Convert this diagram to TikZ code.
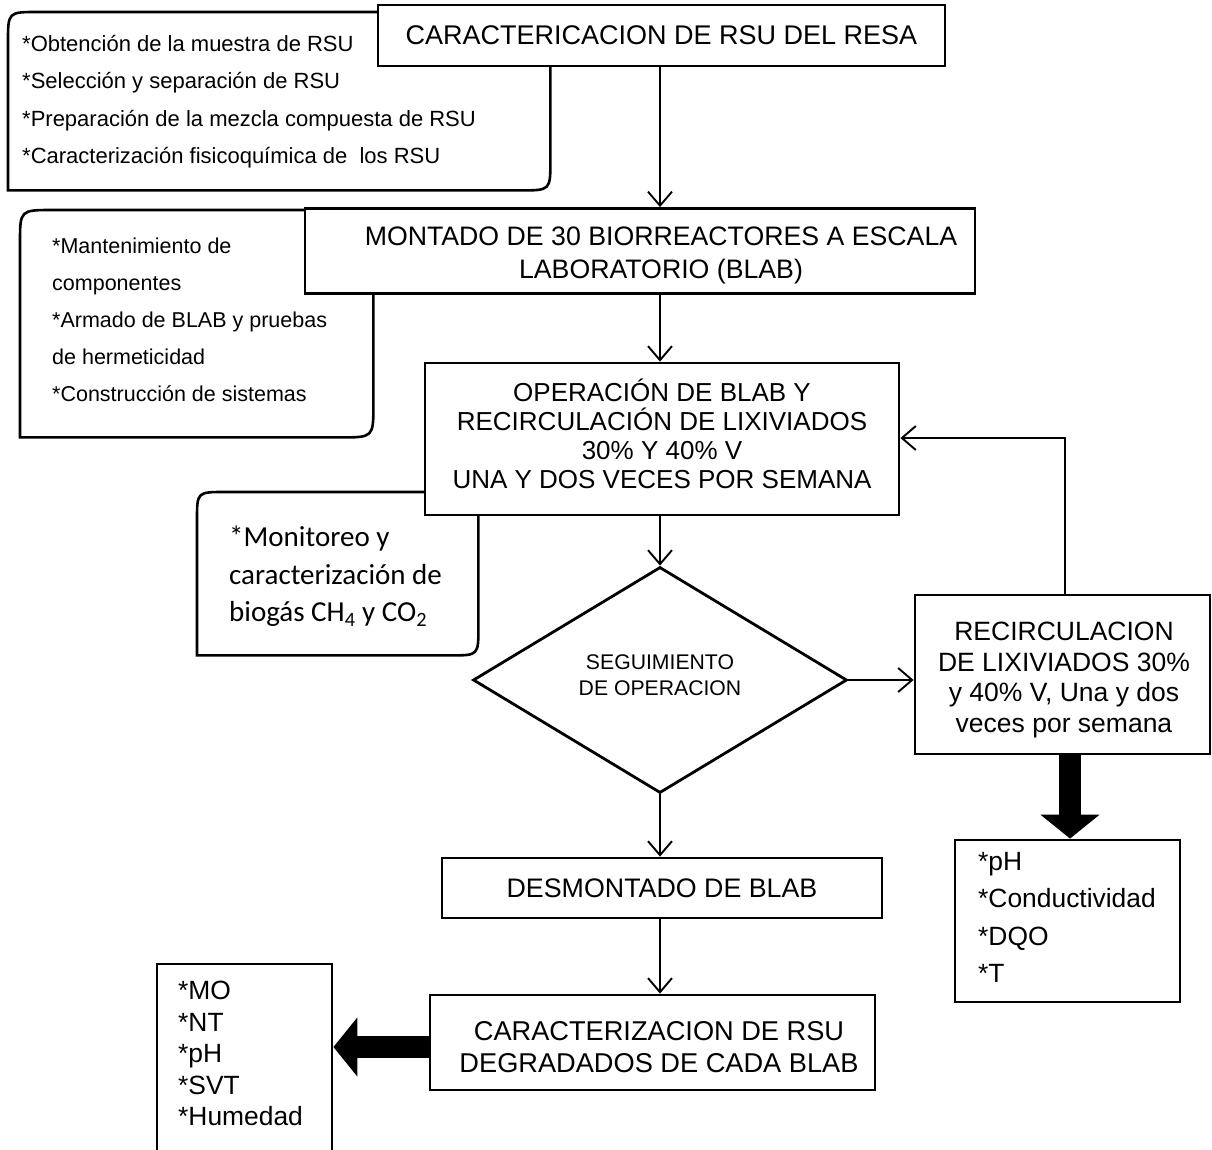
\documentclass[tikz,border=0pt]{standalone}
\usepackage{fontspec}
\setmainfont{Liberation Sans}
\newfontfamily\calib{Carlito}
\usetikzlibrary{arrows.meta,shapes.geometric}
\begin{document}
\begin{tikzpicture}[x=1pt,y=-1pt,
  box/.style={draw, line width=2.8pt, fill=white, align=center, inner sep=0pt},
  ctext/.style={inner sep=0pt, align=center},
  txt/.style={inner sep=0pt, align=left, anchor=north west},
  shell/.style={draw=none, inner sep=0pt, anchor=north west},
  callout/.style={draw, line width=2.6pt, fill=white},
  conn/.style={line width=1.9pt, -{Straight Barb[length=14pt,width=24pt,line width=1.9pt]}},
  fat/.style={line width=22pt, -{Triangle[length=24pt,width=58pt]}},
]
\clip (0,0) rectangle (1212,1150);
\useasboundingbox (0,0) rectangle (1212,1150);
\fill[white] (0,0) rectangle (1212,1150);

% ---------- callouts (behind) ----------
\node[shell, minimum width=542pt, minimum height=178pt] (c1) at (8,12) {};
\draw[callout] (c1.south west) -- ([yshift=-30pt]c1.north west) .. controls (c1.north west) .. ([xshift=30pt]c1.north west)
  -- (c1.north east) -- ([yshift=30pt]c1.south east) .. controls (c1.south east) .. ([xshift=-30pt]c1.south east) -- cycle;
\node[txt, font=\fontsize{22}{37.5}\selectfont] (t1) at (22,35) {*Obtención de la muestra de RSU\\*Selección y separación de RSU\\*Preparación de la mezcla compuesta de RSU\\*Caracterización fisicoquímica de\ \ los RSU};

\node[shell, minimum width=353pt, minimum height=227pt] (c2) at (20,210) {};
\draw[callout] (c2.south west) -- ([yshift=-33pt]c2.north west) .. controls (c2.north west) .. ([xshift=33pt]c2.north west)
  -- (c2.north east) -- ([yshift=33pt]c2.south east) .. controls (c2.south east) .. ([xshift=-33pt]c2.south east) -- cycle;
\node[txt, font=\fontsize{21.5}{37}\selectfont] (t2) at (52,238) {*Mantenimiento de\\componentes\\*Armado de BLAB y pruebas\\de hermeticidad\\*Construcción de sistemas};

\node[shell, minimum width=281pt, minimum height=163pt] (c3) at (197,492) {};
\draw[callout] (c3.south west) -- ([yshift=-28pt]c3.north west) .. controls (c3.north west) .. ([xshift=28pt]c3.north west)
  -- (c3.north east) -- ([yshift=28pt]c3.south east) .. controls (c3.south east) .. ([xshift=-28pt]c3.south east) -- cycle;
\node[txt, font={\calib\fontsize{29}{37.5}\selectfont}] (t3) at (229,526) {*Monitoreo y\\caracterización de\\biogás CH\textsubscript{4} y CO\textsubscript{2}};

% ---------- main boxes ----------
\coordinate (ax) at (660,0);
\node[box, font=\fontsize{27}{30}\selectfont, minimum width=567pt, minimum height=61pt] (top) at (661.5,35.5) {CARACTERICACION DE RSU DEL RESA};

\node[box, minimum width=670pt, minimum height=85pt] (mont) at (640,251) {};
\node[ctext, font=\fontsize{26.7}{33}\selectfont] (montt) at (661,255)
  {MONTADO DE 30 BIORREACTORES A ESCALA\\LABORATORIO (BLAB)};

\node[box, minimum width=474pt, minimum height=152pt] (op) at (662,439) {};
\node[ctext, font=\fontsize{26}{29}\selectfont] (opt) at (662,434)
  {OPERACIÓN DE BLAB Y\\RECIRCULACIÓN DE LIXIVIADOS\\30\% Y 40\% V\\UNA Y DOS VECES POR SEMANA};

\node[draw, line width=2.8pt, fill=white, shape=diamond, minimum width=374pt, minimum height=226pt, inner sep=0pt] (dia) at (660,680) {};
\node[ctext, font=\fontsize{21.2}{26}\selectfont] (diat) at (660,675) {SEGUIMIENTO\\DE OPERACION};

\node[box, minimum width=295pt, minimum height=159pt] (rec) at (1062.5,674.5) {};
\node[ctext, font=\fontsize{26.5}{30.5}\selectfont] (rect) at (1064,680)
  {RECIRCULACION\\DE LIXIVIADOS 30\%\\y 40\% V, Una y dos\\veces por semana};

\node[box, minimum width=225pt, minimum height=162pt] (ph) at (1067.5,921) {};
\node[txt, font=\fontsize{26.4}{37.5}\selectfont] (pht) at (978,852) {*pH\\*Conductividad\\*DQO\\*T};

\node[box, font=\fontsize{26.8}{30}\selectfont, minimum width=440pt, minimum height=60pt] (des) at (662,888) {DESMONTADO DE BLAB};

\node[box, minimum width=445pt, minimum height=95pt] (cd) at (652.5,1042.5) {};
\node[ctext, font=\fontsize{27.2}{32}\selectfont] (cdt) at (659,1047)
  {CARACTERIZACION DE RSU\\DEGRADADOS DE CADA BLAB};

\node[box, minimum width=175pt, minimum height=200pt] (mo) at (244.5,1064) {};
\node[txt, font=\fontsize{26.4}{31.5}\selectfont] (mot) at (178,981) {*MO\\*NT\\*pH\\*SVT\\*Humedad};

% ---------- connectors ----------
\draw[conn] (top.south -| ax) -- (mont.north -| ax);
\draw[conn] (mont.south -| ax) -- (op.north -| ax);
\draw[conn] (op.south -| ax) -- (dia.north);
\draw[conn] (dia.east) -- (rec.west |- dia.east);
\coordinate (fb) at (1065,438);
\draw[conn] (rec.north -| fb) -- (fb) -- (op.east |- fb);
\draw[conn] (dia.south) -- (des.north -| ax);
\draw[conn] (des.south -| ax) -- (cd.north -| ax);
\coordinate (fx) at (1070,0);
\draw[fat] (rec.south -| fx) -- (ph.north -| fx);
\coordinate (fy) at (0,1047);
\draw[fat] (cd.west |- fy) -- (mo.east |- fy);
\end{tikzpicture}
\end{document}
